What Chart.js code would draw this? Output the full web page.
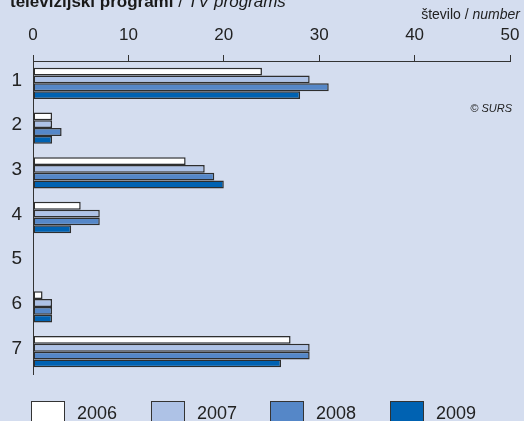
<!DOCTYPE html>
<html>
<head>
<meta charset="utf-8">
<script src="https://cdn.jsdelivr.net/npm/chart.js@4/dist/chart.umd.min.js"></script>
<style>
  html, body { margin:0; padding:0; }
  body { width:524px; height:421px; overflow:hidden; background:#d4ddef; position:relative; font-family:"Liberation Sans", Arial, sans-serif; color:#222; }
  #wrap { position:absolute; left:0; top:0; width:524px; height:421px; }
  .title { position:absolute; left:10px; top:-7px; font-family:"Liberation Sans Narrow","Liberation Sans",Arial,sans-serif; font-size:17px; line-height:17px; white-space:nowrap; color:#1a1a1a; }
  .title b { font-weight:bold; }
  .unit { position:absolute; right:4px; top:7px; font-size:14px; line-height:14px; white-space:nowrap; color:#222; }
  .src { position:absolute; right:12px; top:103px; font-size:11px; line-height:11px; font-style:italic; color:#222; }
  .lg-box { position:absolute; top:401px; width:32px; height:26px; border:1.5px solid #333; }
  .lg-txt { position:absolute; top:403px; font-size:18px; line-height:20px; color:#222; }
</style>
</head>
<body>
<div id="wrap"><canvas id="c" width="524" height="421"></canvas></div>
<div class="title"><b>televizijski programi</b> / <i>TV programs</i></div>
<div class="unit">število / <i>number</i></div>
<div class="src">© SURS</div>
<div id="legend"></div>
<script>
const categories = ["1", "2", "3", "4", "5", "6", "7"];
const seriesNames = ["2006", "2007", "2008", "2009"];
const values2006 = [24, 2, 16, 5, 0, 1, 27];
const values2007 = [29, 2, 18, 7, 0, 2, 29];
const values2008 = [31, 3, 19, 7, 0, 2, 29];
const values2009 = [28, 2, 20, 4, 0, 2, 26];
const seriesColors = ["#ffffff", "#aec2e6", "#5587c8", "#0062b2"];
const xTicksMin = 0, xTicksMax = 50, xTicksStep = 10;

const seriesValues = [values2006, values2007, values2008, values2009];

const datasets = seriesNames.map((name, i) => ({
  label: name,
  data: seriesValues[i],
  backgroundColor: seriesColors[i],
  borderColor: "#2e2e2e",
  borderWidth: 1.5,
  borderSkipped: false,
  categoryPercentage: 0.7,
  barPercentage: 1.0
}));

new Chart(document.getElementById("c"), {
  type: "bar",
  data: { labels: categories, datasets },
  options: {
    indexAxis: "y",
    responsive: false,
    animation: false,
    devicePixelRatio: 1,
    layout: { padding: { left: 0, right: 14, top: 0, bottom: 47 } },
    plugins: { legend: { display: false }, tooltip: { enabled: false } },
    scales: {
      x: {
        position: "top",
        min: xTicksMin, max: xTicksMax,
        ticks: { stepSize: xTicksStep, color: "#222", font: { family: "Liberation Sans", size: 17 }, padding: 9 },
        grid: { drawOnChartArea: false, drawTicks: true, tickLength: 6, color: "#333", lineWidth: 1 },
        border: { display: true, color: "#333", width: 1 },
        afterFit: s => { s.height = 61; s.paddingLeft = 0; s.paddingRight = 0; }
      },
      y: {
        ticks: { color: "#222", font: { family: "Liberation Sans", size: 19 }, padding: 11, labelOffset: -3 },
        grid: { display: false, drawTicks: false },
        border: { display: true, color: "#333", width: 1 },
        afterFit: s => { s.width = 33; s.paddingTop = 0; s.paddingBottom = 0; }
      }
    }
  }
});

// legend
const lg = document.getElementById("legend");
const boxX = [31, 151, 270, 390];
seriesNames.forEach((name, i) => {
  const b = document.createElement("div");
  b.className = "lg-box";
  b.style.left = boxX[i] + "px";
  b.style.background = seriesColors[i];
  lg.appendChild(b);
  const t = document.createElement("div");
  t.className = "lg-txt";
  t.style.left = (boxX[i] + 46) + "px";
  t.textContent = name;
  lg.appendChild(t);
});
</script>
</body>
</html>
